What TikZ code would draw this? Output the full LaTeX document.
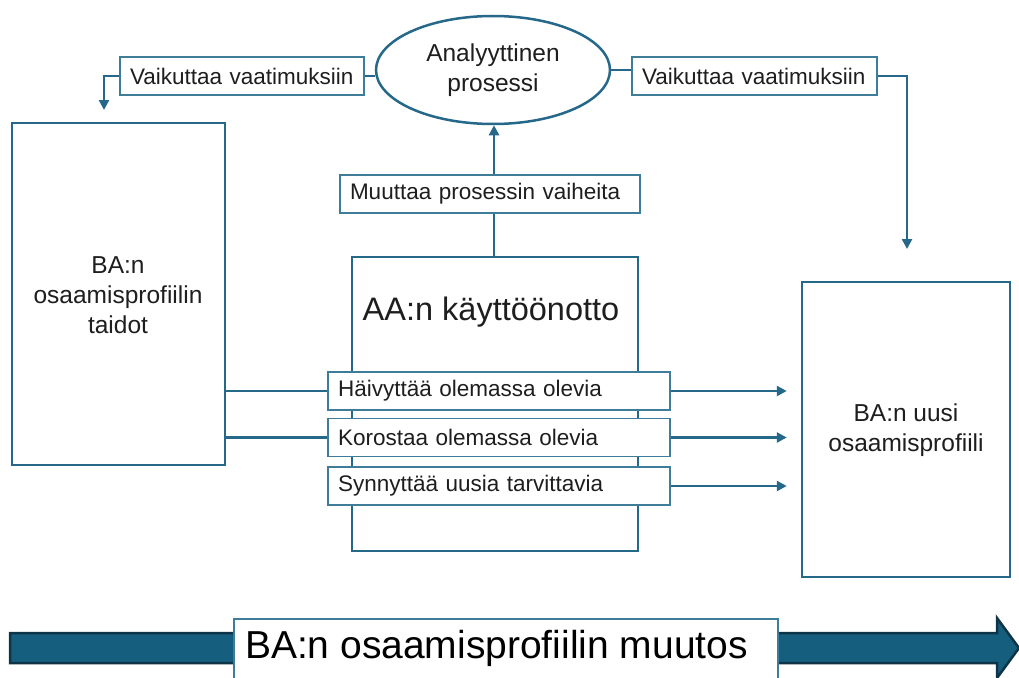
\documentclass[tikz,border=0pt]{standalone}
\usepackage{fontspec}
\setmainfont{Liberation Sans}
\usetikzlibrary{arrows.meta,shapes.geometric}
\definecolor{ln}{RGB}{38,104,138}
\definecolor{lb}{RGB}{62,124,153}
\definecolor{bigfill}{RGB}{22,94,126}
\definecolor{bigdraw}{RGB}{14,52,72}
\definecolor{txt}{RGB}{30,30,30}
\tikzset{
  lbl/.style={draw=lb, line width=1.5pt, fill=white, inner sep=0pt, minimum height=38pt, text=txt, font=\fontsize{22.5}{26}\selectfont},
  bigbox/.style={draw=ln, line width=2.5pt, fill=white, inner sep=0pt},
  btxt/.style={text=txt, align=center, inner sep=0pt, font=\fontsize{24.5}{30}\selectfont},
  conn/.style={draw=ln, line width=2.8pt},
  arr/.style={conn, -{Triangle[length=10pt,width=10pt]}}
}
\begin{document}
\begin{tikzpicture}[x=1pt,y=-1pt]
\useasboundingbox (0,0) rectangle (1019,677);
\clip (0,0) rectangle (1019,677);
% ellipse
\node[ellipse, draw=ln, line width=2.5pt, fill=white, minimum width=234pt, minimum height=108pt, inner sep=0pt, align=center, text=txt, font=\fontsize{24.5}{30}\selectfont] (ell) at (493,70) {Analyyttinen\\prosessi};
% top labels
\node[lbl, minimum width=244pt, text width=224pt] (vl) at (242,76) {Vaikuttaa vaatimuksiin};
\node[lbl, minimum width=245pt, text width=225pt] (vr) at (754.5,76) {Vaikuttaa vaatimuksiin};
\coordinate (vlt) at (104,110);
\coordinate (vrt) at (907,249);
\draw[conn] (vl.east) -- (vl.east -| ell.west);
\draw[arr] (vl.west) -- (vl.west -| vlt) -- (vlt);
\draw[conn] (ell.east) -- (ell.east -| vr.west);
\draw[arr] (vr.east) -- (vr.east -| vrt) -- (vrt);
% big boxes
\node[bigbox, minimum width=213pt, minimum height=342pt] (bl) at (118.5,294) {};
\node[btxt] (bltxt) at (118,295) {BA:n\\osaamisprofiilin\\taidot};
\node[bigbox, minimum width=208pt, minimum height=295pt] (br) at (906,429.5) {};
\node[btxt] (brtxt) at (906,430) {BA:n uusi\\osaamisprofiili};
\node[bigbox, minimum width=286pt, minimum height=294pt] (aa) at (495,404) {};
\node[text=txt, inner sep=0pt, font=\fontsize{32.5}{36}\selectfont] (aatxt) at (491,312) {AA:n käyttöönotto};
% muuttaa
\node[lbl, minimum width=300pt, text width=280pt] (mu) at (490,194) {Muuttaa prosessin vaiheita};
\draw[conn] (aa.north -| 494,0) -- (mu.south -| 494,0);
\draw[arr] (mu.north -| 494,0) -- (ell.south -| 494,0);
% three labels
\node[lbl, minimum width=342pt, text width=322pt] (h1) at (499,391) {Häivyttää olemassa olevia};
\node[lbl, minimum width=342pt, text width=322pt] (h2) at (499,437.5) {Korostaa olemassa olevia};
\node[lbl, minimum width=342pt, text width=322pt] (h3) at (499,486) {Synnyttää uusia tarvittavia};
\draw[conn] (h1.west -| bl.east) -- (h1.west);
\draw[conn] (h2.west -| bl.east) -- (h2.west);
\draw[arr] (h1.east) -- ([xshift=-14pt]h1.east -| br.west);
\draw[arr] (h2.east) -- ([xshift=-14pt]h2.east -| br.west);
\draw[arr] (h3.east) -- ([xshift=-14pt]h3.east -| br.west);
% bottom arrow
\draw[fill=bigfill, draw=bigdraw, line width=2.5pt] (10,633) -- (997,633) -- (997,618) -- (1019,648) -- (997,678) -- (997,663) -- (10,663) -- cycle;
\node[draw=lb, line width=1.5pt, fill=white, minimum width=544pt, minimum height=64pt, inner sep=0pt] (bot) at (506,651) {};
\node[text=black, inner sep=0pt, font=\fontsize{39}{42}\selectfont] (bottxt) at (496.5,648) {BA:n osaamisprofiilin muutos};
\end{tikzpicture}
\end{document}
